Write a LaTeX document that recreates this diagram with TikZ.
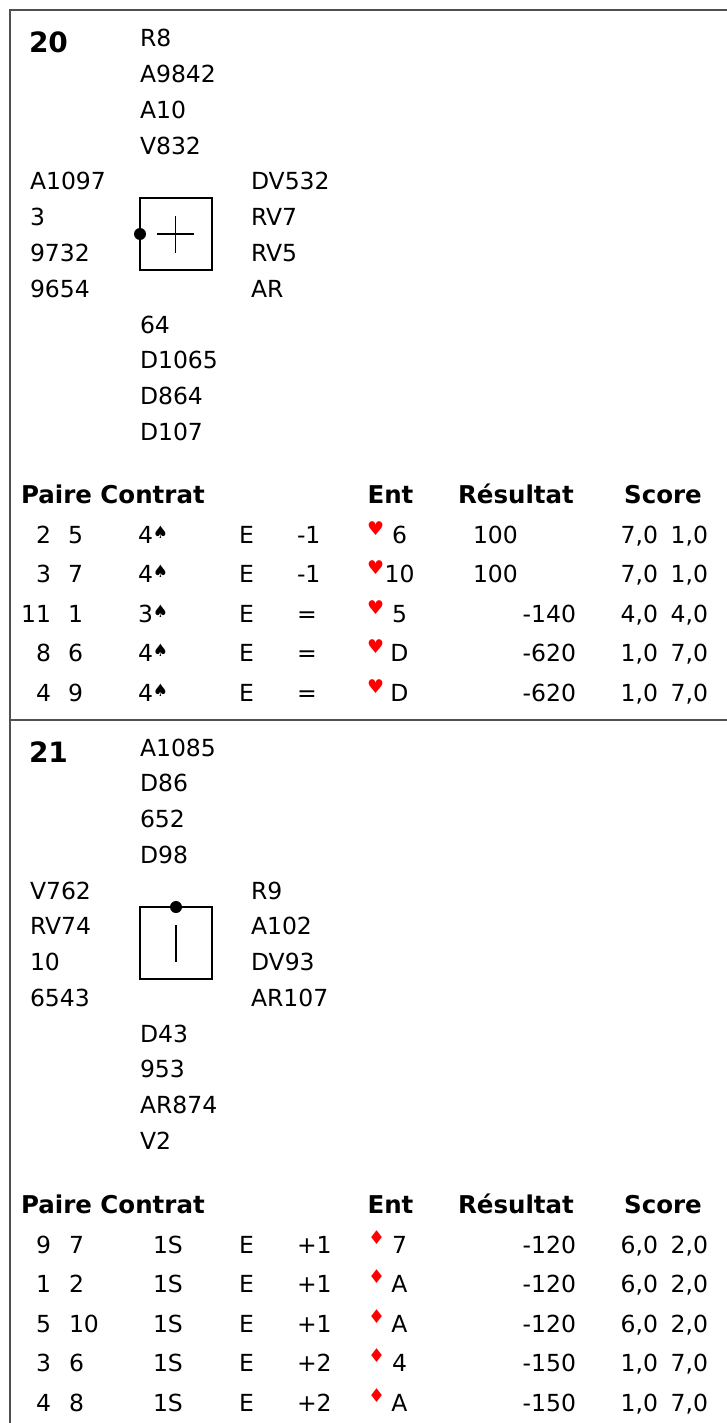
\documentclass[tikz,border=0pt]{standalone}
\usepackage{fontspec}
\setmainfont{DejaVu Sans}
\newcommand\rf{\fontsize{23.5}{26}\selectfont}
\newcommand\bfh{\fontsize{24.5}{26}\selectfont\bfseries}
\newcommand\bnum{\fontsize{28}{30}\selectfont\bfseries}
\newcommand\suitf{\fontsize{19}{19}\selectfont}
\newcommand\spadef{\fontsize{17}{17}\selectfont}
\definecolor{suitred}{RGB}{255,0,0}
\definecolor{framecol}{RGB}{80,80,80}
\tikzset{
  every node/.style={inner sep=0pt, outer sep=0pt},
  tl/.style={anchor=base west, font=\rf},
  tr/.style={anchor=base east, font=\rf},
  tc/.style={anchor=base, font=\rf},
  hd/.style={anchor=base west, font=\bfh},
  hdc/.style={anchor=base, font=\bfh},
  bnum/.style={anchor=base west, font=\bnum},
  redsuit/.style={anchor=base west, font=\suitf, text=suitred},
  board/.style={draw, line width=1.3pt, minimum size=72pt},
  frameline/.style={draw=framecol, line width=2pt},
  tick/.style={line width=1.2pt},
  dealer/.style={circle, fill=black, minimum size=12pt},
}
\begin{document}
\begin{tikzpicture}[x=1pt,y=-1pt]
\useasboundingbox (0,0) rectangle (727,1423);
\coordinate (ftr) at (727,10);
\coordinate (ftl) at (10,10);
\coordinate (fbl) at (10,1423);
\coordinate (fml) at (10,720);
\coordinate (fmr) at (727,720);
\draw[frameline] (ftr) -- (ftl) -- (fbl);
\draw[frameline] (fml) -- (fmr);

% ---------------- Board 20 ----------------
\node[bnum] (a-num) at (29,53) {20};
\foreach \t [count=\k] in {R8,A9842,A10,V832}
  \node[tl] (a-n\k) at (140,{11.25+35.75*\k}) {\t};
\foreach \t [count=\k] in {A1097,3,9732,9654}
  \node[tl] (a-w\k) at (30,{154.25+35.75*\k}) {\t};
\foreach \t [count=\k] in {DV532,RV7,RV5,AR}
  \node[tl] (a-e\k) at (251,{154.25+35.75*\k}) {\t};
\foreach \t [count=\k] in {64,D1065,D864,D107}
  \node[tl] (a-s\k) at (140,{297.25+35.75*\k}) {\t};
\node[board] (a-box) at (176,234) {};
\node[dealer] (a-dot) at (a-box.west) {};
\draw[tick] (157,234) -- (194,234);
\draw[tick] (175.5,216) -- (175.5,253);

\node[hd] (a-h1) at (21,503) {Paire Contrat};
\node[hdc] (a-h2) at (390.5,503) {Ent};
\node[hdc] (a-h3) at (516,503) {Résultat};
\node[hdc] (a-h4) at (663,503) {Score};

\foreach \pa/\pb/\cl/\cn/\rs/\cd/\rx/\ran/\rv/\sa/\sb [count=\i] in {
  2/5/4/{♠}/{-1}/6/473/{base west}/100/{7,0}/{1,0},
  3/7/4/{♠}/{-1}/10/473/{base west}/100/{7,0}/{1,0},
  11/1/3/{♠}/{=}/5/576/{base east}/{-140}/{4,0}/{4,0},
  8/6/4/{♠}/{=}/D/576/{base east}/{-620}/{1,0}/{7,0},
  4/9/4/{♠}/{=}/D/576/{base east}/{-620}/{1,0}/{7,0}}
{
  \pgfmathsetmacro\yy{503.5+39.6*\i}
  \node[tr] (a-pa\i) at (51,\yy) {\pa};
  \node[tl] (a-pb\i) at (68,\yy) {\pb};
  \node[tl] (a-ct\i) at (138,\yy) {\cl\raisebox{5pt}{\spadef\cn}};
  \node[tl] (a-de\i) at (239,\yy) {E};
  \node[tl] (a-rs\i) at (297,\yy) {\rs};
  \node[redsuit] (a-su\i) at (367,\yy-8) {♥};
  \node[tc] (a-cd\i) at (399.5,\yy) {\cd};
  \node[anchor=\ran, font=\rf] (a-rv\i) at (\rx,\yy) {\rv};
  \node[tr] (a-sa\i) at (658,\yy) {\sa};
  \node[tr] (a-sb\i) at (708,\yy) {\sb};
}

% ---------------- Board 21 ----------------
\begin{scope}[yshift=-709pt]
\node[bnum] (b-num) at (29,53) {21};
\foreach \t [count=\k] in {A1085,D86,652,D98}
  \node[tl] (b-n\k) at (140,{11.25+35.75*\k}) {\t};
\foreach \t [count=\k] in {V762,RV74,10,6543}
  \node[tl] (b-w\k) at (30,{154.25+35.75*\k}) {\t};
\foreach \t [count=\k] in {R9,A102,DV93,AR107}
  \node[tl] (b-e\k) at (251,{154.25+35.75*\k}) {\t};
\foreach \t [count=\k] in {D43,953,AR874,V2}
  \node[tl] (b-s\k) at (140,{297.25+35.75*\k}) {\t};
\node[board] (b-box) at (176,234) {};
\node[dealer] (b-dot) at (b-box.north) {};
\draw[tick] (176,216) -- (176,253);

\node[hd] (b-h1) at (21,504) {Paire Contrat};
\node[hdc] (b-h2) at (390.5,504) {Ent};
\node[hdc] (b-h3) at (516,504) {Résultat};
\node[hdc] (b-h4) at (663,504) {Score};

\foreach \pa/\pb/\rs/\cd/\rv/\sa/\sb [count=\i] in {
  9/7/{+1}/7/{-120}/{6,0}/{2,0},
  1/2/{+1}/A/{-120}/{6,0}/{2,0},
  5/10/{+1}/A/{-120}/{6,0}/{2,0},
  3/6/{+2}/4/{-150}/{1,0}/{7,0},
  4/8/{+2}/A/{-150}/{1,0}/{7,0}}
{
  \pgfmathsetmacro\yy{504.5+39.6*\i}
  \node[tr] (b-pa\i) at (51,\yy) {\pa};
  \node[tl] (b-pb\i) at (69,\yy) {\pb};
  \node[tl] (b-ct\i) at (153,\yy) {1S};
  \node[tl] (b-de\i) at (239,\yy) {E};
  \node[tl] (b-rs\i) at (297,\yy) {\rs};
  \node[redsuit] (b-su\i) at (368,\yy-9) {♦};
  \node[tc] (b-cd\i) at (399.5,\yy) {\cd};
  \node[tr] (b-rv\i) at (576,\yy) {\rv};
  \node[tr] (b-sa\i) at (658,\yy) {\sa};
  \node[tr] (b-sb\i) at (708,\yy) {\sb};
}
\end{scope}
\end{tikzpicture}
\end{document}
